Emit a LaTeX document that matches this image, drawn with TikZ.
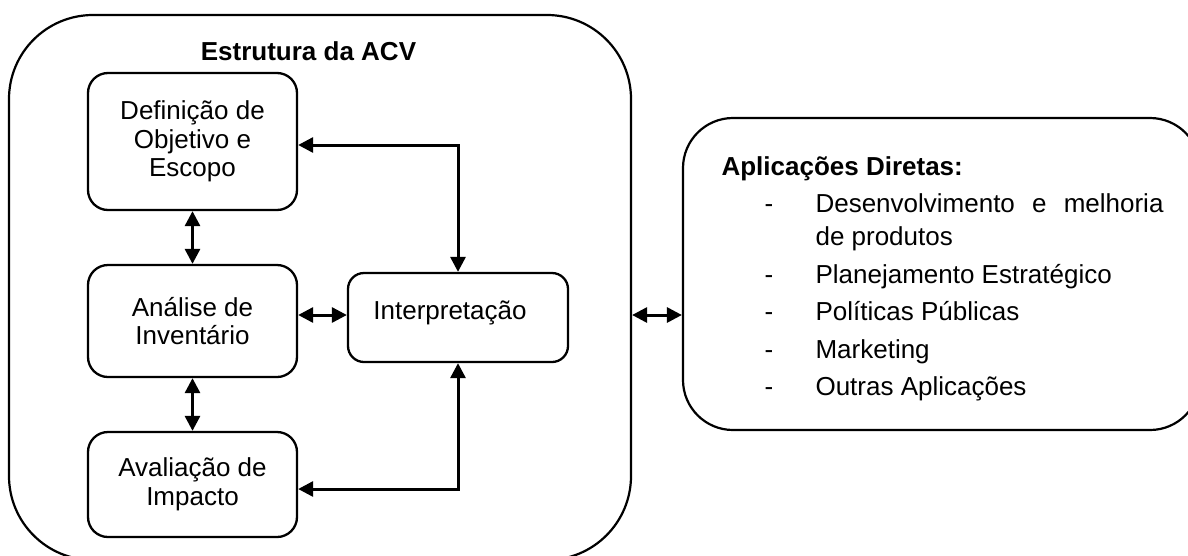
\documentclass[tikz,border=0pt]{standalone}
\usepackage{fontspec}
\setmainfont{Liberation Sans}
\usetikzlibrary{arrows.meta}
\begin{document}
\begin{tikzpicture}[x=1pt,y=-1pt,
  every node/.style={font=\fontsize{26}{28.5}\selectfont},
  boldtext/.style={font=\fontsize{26}{28.5}\selectfont\bfseries},
  box/.style={draw, line width=2.3pt, rounded corners=20pt, align=center, inner sep=0pt},
  bigbox/.style={draw, line width=2.2pt, inner sep=0pt},
  link/.style={line width=3pt, {Triangle[length=15pt,width=15pt]}-{Triangle[length=15pt,width=15pt]}}]
\path[use as bounding box, clip] (0,0) rectangle (1188,555);

% outer container
\node[bigbox, rounded corners=84pt, minimum width=622pt, minimum height=545pt] (acv) at (320,287.5) {};
\node[boldtext, anchor=base] (acvtitle) at (308.5,60) {Estrutura da ACV};

% inner boxes
\node[box, minimum width=209pt, minimum height=137pt] (def) at (192.5,141.5) {Definição de\\Objetivo e\\Escopo};
\node[box, minimum width=209pt, minimum height=112pt] (inv) at (192.5,321) {Análise de\\Inventário};
\node[box, minimum width=209pt, minimum height=105pt] (imp) at (192.5,484.5) {Avaliação de\\Impacto};
\node[box, rounded corners=16pt, minimum width=220pt, minimum height=89pt] (int) at (458,317.5) {};
\node[anchor=base] (inttext) at (450,319) {Interpretação};

% right container
\node[bigbox, rounded corners=50pt, minimum width=517pt, minimum height=312pt] (apps) at (941.5,274) {};
\node[boldtext, anchor=base west] (appstitle) at (718,175) {Aplicações Diretas:};
\node[anchor=base] (d1) at (769,212) {-};
\node[anchor=base west] (i1a) at (812,212) {\makebox[348pt][s]{Desenvolvimento e melhoria}};
\node[anchor=base west] (i1b) at (812,245) {de produtos};
\node[anchor=base] (d2) at (769,283) {-};
\node[anchor=base west] (i2) at (812,283) {Planejamento Estratégico};
\node[anchor=base] (d3) at (769,320) {-};
\node[anchor=base west] (i3) at (812,320) {Políticas Públicas};
\node[anchor=base] (d4) at (769,358) {-};
\node[anchor=base west] (i4) at (812,358) {Marketing};
\node[anchor=base] (d5) at (769,395) {-};
\node[anchor=base west] (i5) at (812,395) {Outras Aplicações};

% connectors
\coordinate (ytop) at (0,145);
\coordinate (ymid) at (0,315);
\coordinate (ybot) at (0,489);
\draw[link] (def.south) -- (inv.north);
\draw[link] (inv.south) -- (imp.north);
\draw[link] (inv.east |- ymid) -- (int.west |- ymid);
\draw[link] (def.east |- ytop) -| (int.north);
\draw[link] (imp.east |- ybot) -| (int.south);
\draw[link] (acv.east |- ymid) -- (apps.west |- ymid);
\end{tikzpicture}
\end{document}
